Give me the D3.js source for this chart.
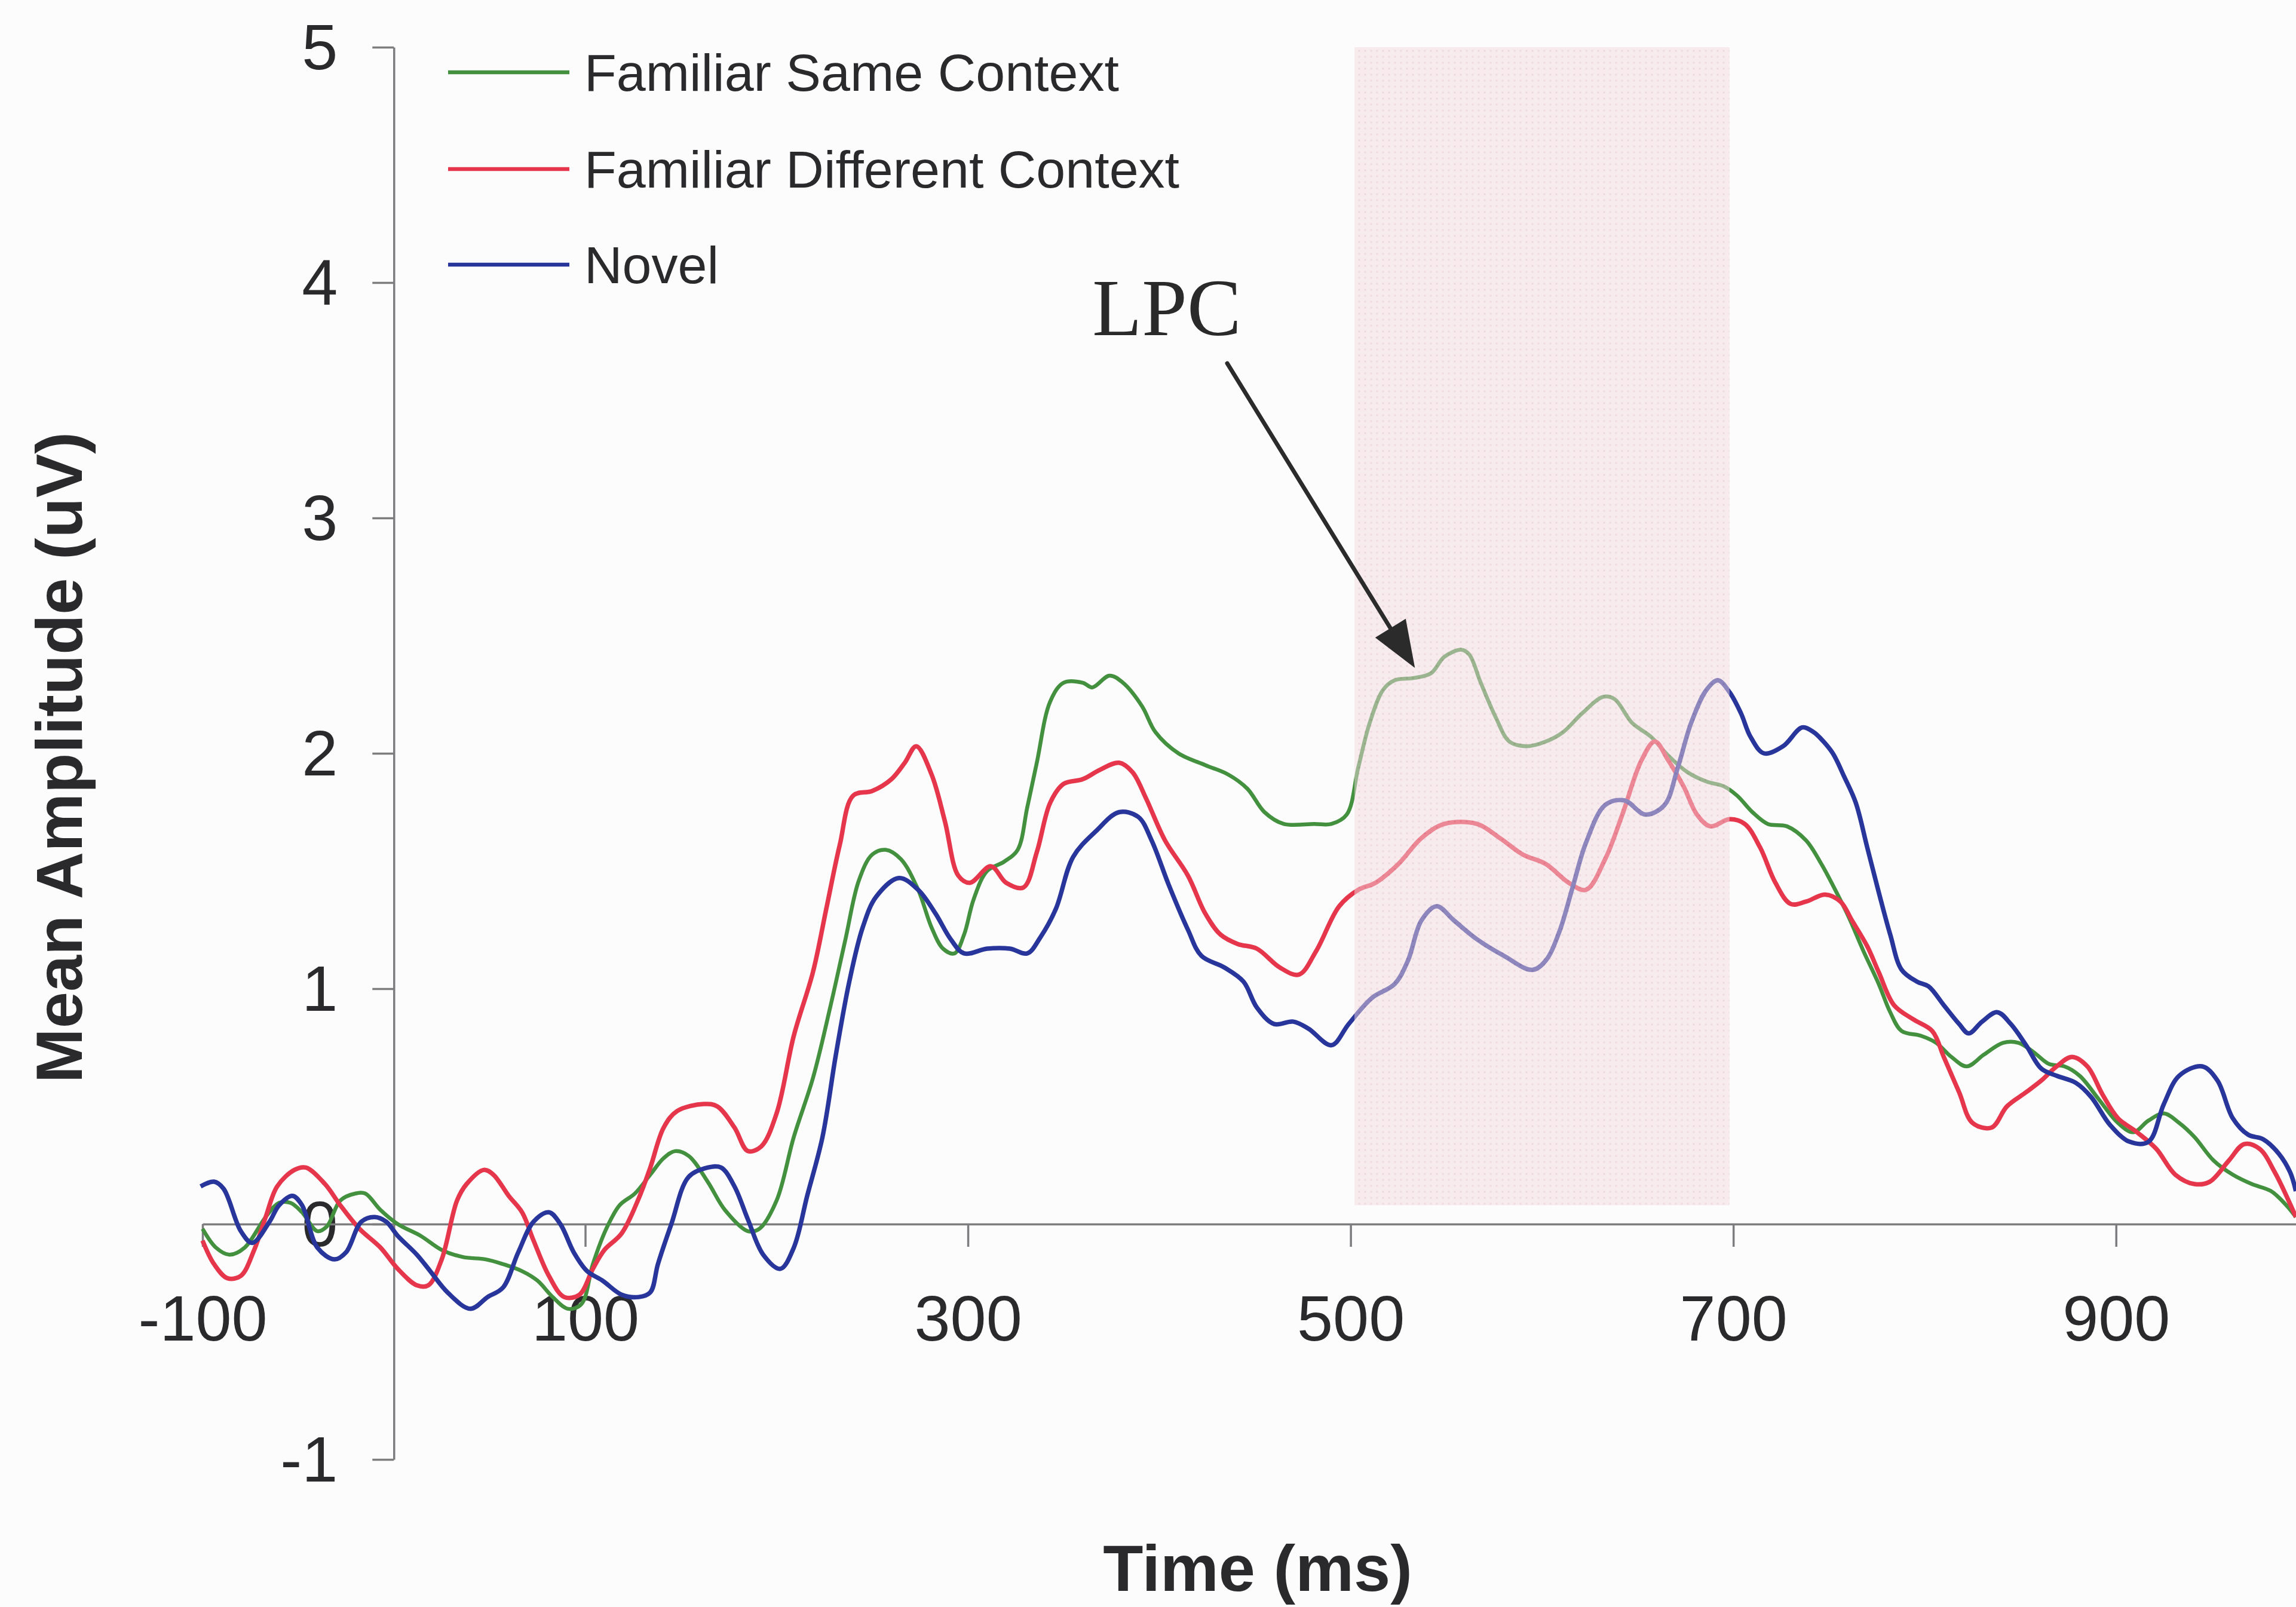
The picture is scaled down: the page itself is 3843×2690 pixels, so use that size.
<!DOCTYPE html>
<html>
<head>
<meta charset="utf-8">
<script src="https://cdn.jsdelivr.net/npm/d3@7"></script>
<style>
  html, body { margin: 0; padding: 0; background: #fcfcfd; }
  svg { display: block; }
</style>
</head>
<body>
<svg id="chart" width="3843" height="2690"></svg>
<script>
// ---------------- DATA ----------------
const seriesNames = ["Familiar Same Context", "Familiar Different Context", "Novel"];
const seriesColors = ["#43913f", "#e6364c", "#28359a"];

const xTickValues = [-100, 100, 300, 500, 700, 900];
const yTickValues = [-1, 0, 1, 2, 3, 4, 5];

// [time (ms), amplitude (uV)]
const familiarSame = [
  [-100,-0.02],[-93,-0.10],[-86,-0.13],[-78,-0.10],[-67,0.03],[-60,0.09],[-54,0.09],[-48,0.05],
  [-40,-0.03],[-35,-0.01],[-28,0.10],[-20,0.13],[-15,0.13],[-7,0.06],[2,0.0],[14,-0.05],[25,-0.11],
  [36,-0.14],[48,-0.15],[57,-0.17],[67,-0.20],[75,-0.24],[83,-0.31],[91,-0.36],[98,-0.34],[104,-0.17],
  [111,-0.02],[118,0.08],[126,0.13],[134,0.21],[141,0.28],[147,0.31],[154,0.29],[164,0.18],[173,0.06],
  [185,-0.03],[191,-0.02],[200,0.10],[209,0.37],[219,0.62],[228,0.92],[236,1.21],[243,1.46],[250,1.57],
  [257,1.59],[265,1.55],[274,1.42],[281,1.26],[287,1.17],[293,1.15],[298,1.23],[303,1.38],[310,1.50],
  [319,1.54],[326,1.59],[331,1.77],[336,1.96],[343,2.22],[350,2.30],[360,2.30],[365,2.28],[374,2.33],
  [381,2.30],[391,2.20],[398,2.09],[410,2.00],[424,1.95],[436,1.91],[446,1.85],[455,1.75],[465,1.70],
  [481,1.70],[490,1.70],[498,1.74],[504,1.94],[510,2.13],[517,2.27],[523,2.31],[533,2.32],[542,2.34],
  [549,2.41],[558,2.44],[562,2.42],[568,2.30],[576,2.15],[583,2.05],[592,2.03],[602,2.05],[611,2.09],
  [621,2.17],[632,2.24],[638,2.23],[647,2.13],[657,2.07],[666,1.99],[676,1.92],[686,1.88],[695,1.86],
  [702,1.82],[710,1.75],[718,1.70],[728,1.69],[738,1.63],[746,1.53],[752,1.44],[760,1.31],[768,1.16],
  [776,1.02],[782,0.90],[788,0.82],[798,0.80],[806,0.77],[814,0.71],[822,0.67],[831,0.72],[841,0.77],
  [849,0.77],[857,0.73],[865,0.68],[873,0.67],[881,0.63],[891,0.53],[901,0.43],[909,0.39],[917,0.44],
  [925,0.47],[933,0.43],[941,0.37],[951,0.27],[961,0.21],[971,0.17],[981,0.14],[989,0.08],[994,0.03]
];

const familiarDifferent = [
  [-100,-0.07],[-94,-0.17],[-87,-0.23],[-80,-0.22],[-73,-0.11],[-67,0.03],[-61,0.16],[-52,0.23],
  [-46,0.24],[-36,0.17],[-28,0.08],[-18,-0.02],[-7,-0.10],[2,-0.19],[12,-0.26],[18,-0.26],[25,-0.15],
  [33,0.10],[38,0.17],[47,0.23],[52,0.21],[60,0.12],[67,0.05],[73,-0.07],[81,-0.22],[89,-0.31],
  [97,-0.30],[104,-0.19],[110,-0.11],[119,-0.04],[128,0.11],[134,0.24],[141,0.41],[148,0.48],
  [162,0.51],[169,0.50],[178,0.41],[185,0.31],[192,0.33],[200,0.47],[209,0.80],[219,1.07],[226,1.34],
  [233,1.61],[240,1.82],[250,1.84],[260,1.89],[267,1.96],[273,2.03],[281,1.91],[288,1.71],[295,1.48],
  [301,1.45],[312,1.52],[320,1.45],[329,1.43],[336,1.58],[343,1.79],[350,1.87],[360,1.89],[369,1.93],
  [379,1.96],[386,1.92],[393,1.81],[403,1.63],[415,1.48],[424,1.32],[432,1.23],[441,1.19],[451,1.17],
  [463,1.09],[473,1.06],[482,1.16],[494,1.35],[504,1.42],[513,1.45],[525,1.53],[537,1.64],[549,1.70],
  [566,1.70],[578,1.64],[590,1.57],[602,1.53],[614,1.45],[623,1.42],[633,1.55],[642,1.74],[652,1.97],
  [659,2.05],[666,1.97],[674,1.86],[681,1.74],[688,1.69],[698,1.72],[706,1.70],[714,1.60],[722,1.45],
  [730,1.36],[738,1.37],[748,1.40],[756,1.37],[762,1.29],[770,1.18],[776,1.07],[784,0.93],[794,0.87],
  [804,0.82],[810,0.71],[818,0.56],[825,0.43],[835,0.41],[843,0.50],[853,0.56],[861,0.61],[869,0.67],
  [877,0.71],[885,0.67],[893,0.55],[901,0.45],[911,0.39],[921,0.32],[931,0.21],[941,0.17],[949,0.18],
  [959,0.27],[967,0.34],[975,0.32],[983,0.22],[994,0.03]
];

const novel = [
  [-101,0.16],[-94,0.18],[-89,0.15],[-80,-0.03],[-74,-0.08],[-65,0.01],[-60,0.08],[-53,0.12],
  [-48,0.08],[-40,-0.10],[-31,-0.15],[-25,-0.12],[-17,0.01],[-10,0.03],[-4,0.01],[2,-0.05],[12,-0.13],
  [19,-0.20],[28,-0.29],[40,-0.36],[49,-0.31],[57,-0.27],[65,-0.12],[73,0.01],[81,0.05],[87,0.0],
  [94,-0.12],[101,-0.20],[109,-0.24],[119,-0.30],[128,-0.31],[134,-0.29],[138,-0.17],[145,0.0],
  [154,0.20],[164,0.24],[171,0.24],[178,0.16],[185,0.02],[193,-0.13],[202,-0.19],[209,-0.10],[216,0.12],
  [224,0.37],[231,0.72],[238,1.03],[245,1.26],[252,1.39],[264,1.47],[274,1.42],[283,1.32],[291,1.21],
  [298,1.15],[310,1.17],[322,1.17],[331,1.15],[338,1.22],[346,1.34],[355,1.56],[367,1.67],[379,1.75],
  [389,1.73],[396,1.63],[405,1.44],[415,1.25],[422,1.14],[434,1.09],[444,1.03],[451,0.92],[460,0.85],
  [470,0.86],[478,0.83],[490,0.76],[499,0.85],[511,0.96],[523,1.02],[530,1.12],[537,1.29],[545,1.35],
  [554,1.29],[566,1.21],[580,1.14],[595,1.08],[602,1.12],[609,1.24],[616,1.43],[623,1.62],[633,1.78],
  [643,1.80],[654,1.74],[664,1.78],[671,1.94],[678,2.13],[686,2.27],[692,2.31],[698,2.26],[704,2.17],
  [709,2.07],[716,2.00],[726,2.03],[736,2.11],[742,2.09],[746,2.06],[752,2.00],[758,1.90],[764,1.79],
  [770,1.60],[776,1.41],[782,1.23],[788,1.08],[796,1.03],[802,1.01],[810,0.93],[818,0.85],[823,0.81],
  [830,0.86],[838,0.90],[845,0.85],[853,0.76],[861,0.66],[869,0.63],[879,0.60],[887,0.54],[897,0.42],
  [907,0.35],[917,0.35],[925,0.51],[933,0.63],[945,0.67],[953,0.61],[961,0.45],[969,0.38],[977,0.36],
  [985,0.30],[991,0.22],[994,0.14]
];

const allSeries = [familiarSame, familiarDifferent, novel];
const seriesWidths = [6.5, 7.5, 7.5];

// LPC window (ms) and its vertical extent (uV)
const lpcWindow = [502, 698];
const lpcExtent = [0.08, 5];
// annotation (data units): label anchor, arrow start, arrow tip
const lpcLabel = { text: "LPC", t: 365, v: 3.777 };
const lpcArrow = { from: [435.5, 3.657], to: [533.6, 2.363] };

// ---------------- DRAW ----------------
const svg = d3.select("#chart");
const x = d3.scaleLinear().domain([-100, 1000]).range([339, 3862]);
const y = d3.scaleLinear().domain([-1, 5]).range([2443, 79]);

const axisColor = "#7d7d80";
const textColor = "#2a2a2c";
const sans = "'Liberation Sans', Arial, sans-serif";

svg.append("rect").attr("width", 3843).attr("height", 2690).attr("fill", "#fcfcfd");

const defs = svg.append("defs");
const pat = defs.append("pattern").attr("id", "dots")
  .attr("patternUnits", "userSpaceOnUse").attr("width", 10).attr("height", 10);
pat.append("rect").attr("width", 10).attr("height", 10).attr("fill", "#f1d9df");
pat.append("circle").attr("cx", 5).attr("cy", 5).attr("r", 1.8).attr("fill", "#e2b7c2");

// Y axis
const yAxis = svg.append("g")
  .attr("transform", `translate(${x(0)},0)`)
  .call(d3.axisLeft(y).tickValues(yTickValues).tickSize(36).tickSizeOuter(0).tickPadding(58)
    .tickFormat(d => String(d)));
yAxis.select(".domain").attr("stroke", axisColor).attr("stroke-width", 3.5);
yAxis.selectAll(".tick line").attr("stroke", axisColor).attr("stroke-width", 3.5);
yAxis.selectAll(".tick text").attr("font-family", sans).attr("font-size", 108)
  .attr("fill", textColor).attr("dy", "0.34em");

// X axis
const xAxis = svg.append("g")
  .attr("transform", `translate(0,${y(0)})`)
  .call(d3.axisBottom(x).tickValues(xTickValues).tickSize(38).tickSizeOuter(0).tickPadding(80)
    .tickFormat(d => String(d)));
xAxis.select(".domain").attr("stroke", axisColor).attr("stroke-width", 3.5);
xAxis.selectAll(".tick line").attr("stroke", axisColor).attr("stroke-width", 3.5);
xAxis.selectAll(".tick text").attr("font-family", sans).attr("font-size", 108)
  .attr("fill", textColor);

// Lines
const line = d3.line().x(d => x(d[0])).y(d => y(d[1])).curve(d3.curveCatmullRom.alpha(0.5));
svg.append("g").selectAll("path").data(allSeries).join("path")
  .attr("d", line)
  .attr("fill", "none")
  .attr("stroke", (d, i) => seriesColors[i])
  .attr("stroke-width", (d, i) => seriesWidths[i])
  .attr("stroke-linejoin", "round");

// LPC shaded window (over the lines, translucent)
svg.append("rect")
  .attr("x", x(lpcWindow[0])).attr("width", x(lpcWindow[1]) - x(lpcWindow[0]))
  .attr("y", y(lpcExtent[1])).attr("height", y(lpcExtent[0]) - y(lpcExtent[1]))
  .attr("fill", "url(#dots)").attr("opacity", 0.5);

// LPC label & arrow
svg.append("text")
  .attr("x", x(lpcLabel.t)).attr("y", y(lpcLabel.v))
  .attr("font-family", "'Liberation Serif', 'Times New Roman', serif")
  .attr("font-size", 136).attr("fill", "#2a2a2a").text(lpcLabel.text);

const ax0 = x(lpcArrow.from[0]), ay0 = y(lpcArrow.from[1]);
const ax1 = x(lpcArrow.to[0]), ay1 = y(lpcArrow.to[1]);
const len = Math.hypot(ax1 - ax0, ay1 - ay0);
const ux = (ax1 - ax0) / len, uy = (ay1 - ay0) / len;
const headLen = 78, headHalf = 30;
const bx = ax1 - ux * headLen, by = ay1 - uy * headLen;
svg.append("line").attr("x1", ax0).attr("y1", ay0).attr("x2", bx + ux * 4).attr("y2", by + uy * 4)
  .attr("stroke", "#2b2b2b").attr("stroke-width", 7).attr("stroke-linecap", "round");
svg.append("path")
  .attr("d", `M${ax1},${ay1} L${bx - uy * headHalf},${by + ux * headHalf} L${bx + uy * headHalf},${by - ux * headHalf} Z`)
  .attr("fill", "#2b2b2b");

// Axis titles
svg.append("text").attr("x", 2105).attr("y", 2663).attr("text-anchor", "middle")
  .attr("font-family", sans).attr("font-weight", "bold").attr("font-size", 110)
  .attr("fill", textColor).text("Time (ms)");
svg.append("text").attr("transform", "translate(137,1268) rotate(-90)").attr("text-anchor", "middle")
  .attr("font-family", sans).attr("font-weight", "bold").attr("font-size", 110)
  .attr("fill", textColor).text("Mean Amplitude (uV)");

// Legend
const legendY = [121, 283, 443];
const legend = svg.append("g").selectAll("g").data(seriesNames).join("g")
  .attr("transform", (d, i) => `translate(0,${legendY[i]})`);
legend.append("line").attr("x1", 750).attr("x2", 953).attr("y1", 0).attr("y2", 0)
  .attr("stroke", (d, i) => seriesColors[i]).attr("stroke-width", 6.5);
legend.append("text").attr("x", 978).attr("y", 31)
  .attr("font-family", sans).attr("font-size", 88).attr("fill", textColor)
  .text(d => d);
</script>
</body>
</html>
